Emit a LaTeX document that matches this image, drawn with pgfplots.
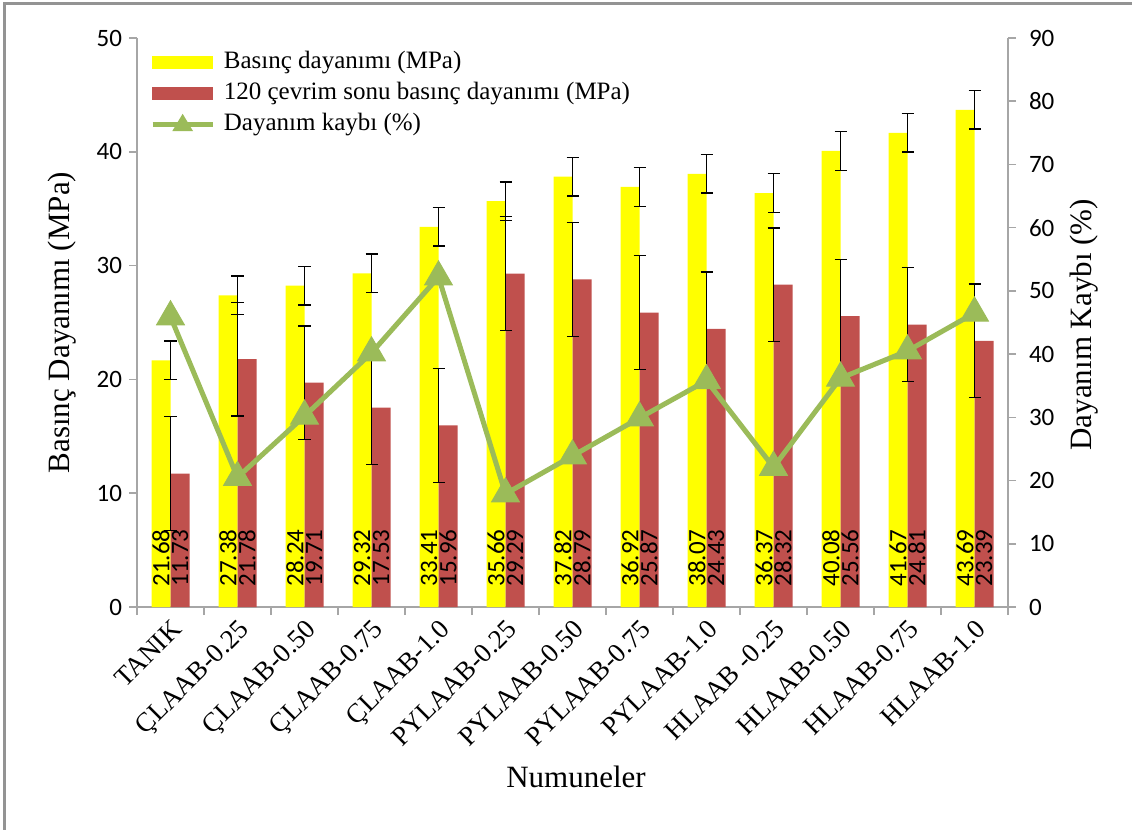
\documentclass[border=0pt]{standalone}
\usepackage{fontspec}
\setmainfont{Liberation Serif}
\newfontfamily\calib{Carlito}
\usepackage{pgfplots}
\pgfplotsset{compat=1.18}
\usepackage{pgfplotstable}
\definecolor{yelc}{HTML}{FFFF00}
\definecolor{redc}{HTML}{C0504D}
\definecolor{grnc}{HTML}{9BBB59}
\definecolor{axc}{HTML}{A6A6A6}

\pgfplotstableread{
x  b      be   r      re   k
0  21.68  1.7  11.73  5.0  45.9
1  27.38  1.7  21.78  5.0  20.5
2  28.24  1.7  19.71  5.0  30.2
3  29.32  1.7  17.53  5.0  40.2
4  33.41  1.7  15.96  5.0  52.2
5  35.66  1.7  29.29  5.0  17.9
6  37.82  1.7  28.79  5.0  23.9
7  36.92  1.7  25.87  5.0  29.9
8  38.07  1.7  24.43  5.0  35.8
9  36.37  1.7  28.32  5.0  22.1
10 40.08  1.7  25.56  5.0  36.2
11 41.67  1.7  24.81  5.0  40.5
12 43.69  1.7  23.39  5.0  46.5
}\data

\pgfplotsset{
  errstyle/.style={
    error bars/.cd, y dir=both, y explicit,
    error bar style={black, line width=0.7bp},
    error mark options={rotate=90, black, mark size=3bp, line width=0.7bp}
  },
  labstyle/.style={
    draw=none, mark=none,
    nodes near coords,
    point meta=explicit symbolic,
    nodes near coords style={rotate=90, anchor=west, inner xsep=10bp, inner ysep=0pt, black,
      font=\calib\fontsize{12.5bp}{14bp}\selectfont}
  }
}

\begin{document}
\begin{tikzpicture}
\path[use as bounding box] (-68.5bp,-111.5bp) rectangle (497.5bp,303.5bp);
\draw[gray!85, line width=1.5bp] (-66bp,-112bp) -- (-66bp,301.5bp) -- (498bp,301.5bp);

\begin{axis}[
  width=435.5bp, height=284.5bp, scale only axis,
  xmin=-0.5, xmax=12.5, ymin=0, ymax=50,
  axis y line*=left, axis x line*=bottom,
  axis line style={axc, line width=0.8bp},
  xtick={0,...,12},
  xticklabels={TANIK, ÇLAAB-0.25, ÇLAAB-0.50, ÇLAAB-0.75, ÇLAAB-1.0, PYLAAB-0.25, PYLAAB-0.50, PYLAAB-0.75, PYLAAB-1.0, HLAAB -0.25, HLAAB-0.50, HLAAB-0.75, HLAAB-1.0},
  major x tick style={draw=none},
  minor xtick={-0.5,0.5,...,12.5},
  minor x tick style={axc, line width=0.8bp},
  minor tick length=4bp,
  major tick length=4bp,
  tick align=outside,
  ytick={0,10,...,50},
  y tick style={axc, line width=0.8bp},
  /pgf/number format/assume math mode=true,
  yticklabel style={font=\calib\fontsize{12.5bp}{14bp}\selectfont, black},
  xticklabel style={rotate=45, anchor=north east, font=\fontsize{13.5bp}{15bp}\selectfont, inner sep=1bp},
  xlabel={Numuneler},
  ylabel={Basınç Dayanımı (MPa)},
  every axis x label/.style={at={(axis description cs:0.504,-0.299)}, anchor=center, font=\fontsize{15.5bp}{17bp}\selectfont},
  every axis y label/.style={at={(axis description cs:-0.086,0.5)}, rotate=90, anchor=center, font=\fontsize{15.5bp}{17bp}\selectfont},
  clip=false,
]
\addplot[ybar, bar width=9.5bp, bar shift=-4.75bp, fill=yelc, draw=none, errstyle]
  table[x=x, y=b, y error=be] {\data};
\addplot[ybar, bar width=9.5bp, bar shift=4.75bp, fill=redc, draw=none, errstyle]
  table[x=x, y=r, y error=re] {\data};
% value labels at the foot of each bar
\addplot[labstyle] table[x expr=\thisrow{x}-0.1418, y expr=0, meta=b] {\data};
\addplot[labstyle] table[x expr=\thisrow{x}+0.1418, y expr=0, meta=r] {\data};
\end{axis}

\begin{axis}[
  width=435.5bp, height=284.5bp, scale only axis,
  xmin=-0.5, xmax=12.5, ymin=0, ymax=90,
  axis y line*=right, axis x line=none,
  axis line style={axc, line width=0.8bp},
  ytick={0,10,...,90},
  y tick style={axc, line width=0.8bp},
  major tick length=4bp,
  tick align=outside,
  /pgf/number format/assume math mode=true,
  yticklabel style={font=\calib\fontsize{12.5bp}{14bp}\selectfont, black, xshift=3bp},
  ylabel={Dayanım Kaybı (\%)},
  every axis y label/.style={at={(axis description cs:1.087,0.496)}, rotate=90, anchor=center, font=\fontsize{15.5bp}{17bp}\selectfont},
  clip=false,
  legend style={at={(axis description cs:0.015,0.982)}, anchor=north west, draw=none, fill=none,
    font=\fontsize{12.5bp}{14bp}\selectfont, row sep=1.5bp, inner sep=0pt,
    nodes={inner sep=1bp, text height=9bp, text depth=3bp},
    /tikz/every odd column/.append style={column sep=3.5bp}},
  legend cell align=left,
]
\addlegendimage{legend image code/.code={\fill[yelc] (0bp,-3bp) rectangle (30bp,3bp);}}
\addlegendentry{Basınç dayanımı (MPa)}
\addlegendimage{legend image code/.code={\fill[redc] (0bp,-3bp) rectangle (30bp,3bp);}}
\addlegendentry{120 çevrim sonu basınç dayanımı (MPa)}
\addplot[grnc, line width=2.5bp, mark=triangle*, mark size=8bp, mark options={solid, fill=grnc, line width=0.5bp},
  legend image code/.code={\draw[grnc, line width=2.2bp] (0bp,0bp) -- (30bp,0bp); \fill[grnc] (15bp,3bp) -- (12bp,-2bp) -- (18bp,-2bp) -- cycle;}]
  table[x=x, y=k] {\data};
\addlegendentry{Dayanım kaybı (\%)}
\end{axis}
\end{tikzpicture}
\end{document}
